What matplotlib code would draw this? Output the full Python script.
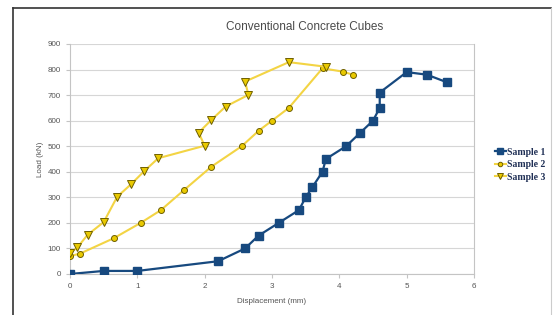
import matplotlib.pyplot as plt
from matplotlib.lines import Line2D

plt.rcParams['font.family'] = ['Liberation Sans', 'DejaVu Sans']

# Sample 1 (squares)
s1_x = [0, 0.5, 1.0, 2.2, 2.6, 2.8, 3.1, 3.4, 3.5, 3.6, 3.75, 3.8, 4.1, 4.3, 4.5, 4.6, 4.6, 5.0, 5.3, 5.6]
s1_y = [0, 12, 12, 50, 100, 150, 200, 250, 300, 340, 400, 450, 500, 550, 600, 650, 710, 790, 780, 750]

# Sample 2 (circles)
s2_x = [0, 0.15, 0.65, 1.05, 1.35, 1.7, 2.1, 2.55, 2.8, 3.0, 3.25, 3.75, 4.05, 4.2]
s2_y = [70, 80, 140, 200, 250, 330, 420, 500, 560, 600, 650, 805, 792, 780]

# Sample 3 (triangles)
s3_x = [0, 0.11, 0.26, 0.5, 0.7, 0.91, 1.1, 1.31, 2.0, 1.91, 2.1, 2.31, 2.65, 2.6, 3.25, 3.8]
s3_y = [83, 104, 153, 203, 302, 352, 402, 453, 502, 553, 603, 655, 701, 753, 829, 811]

x_ticks = [0, 1, 2, 3, 4, 5, 6]
y_ticks = [0, 100, 200, 300, 400, 500, 600, 700, 800, 900]

navy = '#17497f'
yellow_line = '#f3d444'
yellow_fill = '#e9c900'
yellow_edge = '#6e5f00'
grey_txt = '#555555'

fig = plt.figure(figsize=(5.57, 3.15), dpi=100)
ax = fig.add_axes([70 / 557, 41 / 315, 404 / 557, 230 / 315])

ax.plot(s1_x, s1_y, color=navy, lw=1.6, marker='s', ms=5.8, mfc=navy, mec=navy,
        label='Sample 1', zorder=3)
ax.plot(s2_x, s2_y, color=yellow_line, lw=1.5, marker='o', ms=4.3, mfc=yellow_fill,
        mec=yellow_edge, mew=0.7, label='Sample 2', zorder=3)
ax.plot(s3_x, s3_y, color=yellow_line, lw=1.5, marker='v', ms=5.6, mfc=yellow_fill,
        mec=yellow_edge, mew=0.7, label='Sample 3', zorder=3)

ax.set_xlim(0, 6)
ax.set_ylim(0, 900)
ax.set_xticks(x_ticks)
ax.set_yticks(y_ticks)
ax.grid(axis='y', color='#d6d6d6', lw=0.8)
ax.set_axisbelow(True)
for side in ['left', 'right', 'bottom']:
    ax.spines[side].set_color('#c4c4c4')
ax.spines['top'].set_visible(False)
ax.tick_params(labelsize=5.8, labelcolor=grey_txt, color='#c4c4c4', length=3, width=0.8)

ax.set_xlabel('Displacement (mm)', fontsize=5.8, color=grey_txt, labelpad=6)
ax.set_ylabel('Load (kN)', fontsize=5.8, color=grey_txt, labelpad=3)
fig.text(305 / 557, 1 - 27 / 315, 'Conventional Concrete Cubes', ha='center', va='center',
         fontsize=8.5, color='#4a4a4a')

leg = ax.legend(loc='center left', bbox_to_anchor=(1.03, 0.475), frameon=False,
                prop={'family': 'Liberation Serif', 'weight': 'bold', 'size': 7},
                handlelength=1.1, handletextpad=0.15, labelspacing=0.35, markerscale=0.75)
for t in leg.get_texts():
    t.set_color('#1f2f55')

# outer frame of the chart: dark top and left, faint right
fig.add_artist(Line2D([13 / 557, 551 / 557], [1 - 8 / 315, 1 - 8 / 315],
                      transform=fig.transFigure, color='#333333', lw=1.2))
fig.add_artist(Line2D([13 / 557, 13 / 557], [0, 1 - 8 / 315],
                      transform=fig.transFigure, color='#333333', lw=1.2))
fig.add_artist(Line2D([551 / 557, 551 / 557], [0, 1 - 8 / 315],
                      transform=fig.transFigure, color='#cccccc', lw=0.8))

fig.savefig('out.png', dpi=100)
